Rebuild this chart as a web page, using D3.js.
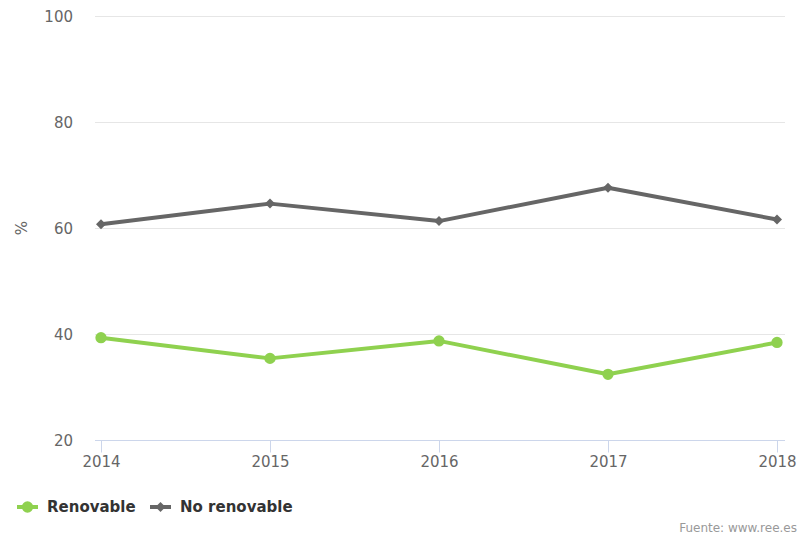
<!DOCTYPE html>
<html>
<head>
<meta charset="utf-8">
<script src="https://cdn.jsdelivr.net/npm/d3@7"></script>
<style>
  html, body { margin: 0; padding: 0; background: #fff; }
  svg { display: block; font-family: "DejaVu Sans", "Lucida Grande", sans-serif; }
</style>
</head>
<body>
<svg id="chart" width="800" height="535"></svg>
<script>
// Share of renewable vs non-renewable generation (%)
const years = [2014, 2015, 2016, 2017, 2018];
const renovable = [39.3, 35.4, 38.7, 32.4, 38.4];
const noRenovable = [60.7, 64.6, 61.3, 67.6, 61.6];
const yTicks = [20, 40, 60, 80, 100];
const seriesNames = ["Renovable", "No renovable"];
const source = "Fuente: www.ree.es";

const svg = d3.select("#chart");
const plot = { left: 95, right: 785, top: 16, bottom: 440 };

const x = d3.scalePoint().domain(years).range([101, 777]);
const y = d3.scaleLinear().domain([20, 100]).range([plot.bottom, plot.top]);

// square diamond marker
const diamond = {
  draw(ctx, size) {
    const r = Math.sqrt(size / 2);
    ctx.moveTo(0, -r); ctx.lineTo(r, 0); ctx.lineTo(0, r); ctx.lineTo(-r, 0); ctx.closePath();
  }
};

// horizontal grid
svg.append("g").selectAll("line").data(yTicks.slice(1)).join("line")
  .attr("x1", plot.left).attr("x2", plot.right)
  .attr("y1", d => Math.round(y(d)) + 0.5).attr("y2", d => Math.round(y(d)) + 0.5)
  .attr("stroke", "#e6e6e6").attr("stroke-width", 1);

// y axis labels
const yAxis = d3.axisLeft(y).tickValues(yTicks).tickSize(0).tickPadding(0);
const gy = svg.append("g").attr("transform", "translate(73,0)").call(yAxis);
gy.select(".domain").remove();
gy.selectAll("text").attr("font-size", 15).attr("fill", "#666")
  .attr("font-family", "DejaVu Sans, sans-serif").attr("dy", "0.35em");

// y axis title
svg.append("text").attr("transform", "translate(27,228) rotate(-90)")
  .attr("text-anchor", "middle").attr("font-size", 15).attr("fill", "#666").text("%");

// x axis
const xAxis = d3.axisBottom(x).tickSize(12).tickPadding(4);
const gx = svg.append("g").attr("transform", `translate(0,${plot.bottom + 0.5})`).call(xAxis);
gx.select(".domain").attr("d", `M${plot.left},0H${plot.right}`).attr("stroke", "#ccd6eb");
gx.selectAll(".tick line").attr("stroke", "#ccd6eb");
gx.selectAll(".tick text").attr("font-size", 15).attr("fill", "#666")
  .attr("font-family", "DejaVu Sans, sans-serif");

const colors = ["#8fd14f", "#666666"];
const line = d3.line().x((d, i) => x(years[i])).y(d => y(d));

function drawSeries(values, color, symbolType, size) {
  const g = svg.append("g");
  g.append("path").datum(values).attr("d", line)
    .attr("fill", "none").attr("stroke", color).attr("stroke-width", 4)
    .attr("stroke-linejoin", "round").attr("stroke-linecap", "round");
  g.selectAll("path.m").data(values).join("path").attr("class", "m")
    .attr("transform", (d, i) => `translate(${x(years[i])},${y(d)})`)
    .attr("d", d3.symbol().type(symbolType).size(size))
    .attr("fill", color);
}
drawSeries(noRenovable, colors[1], diamond, 50);
drawSeries(renovable, colors[0], d3.symbolCircle, 100);

// legend
const legendItems = [
  { name: seriesNames[0], color: colors[0], sym: d3.symbolCircle, size: 100, x: 17 },
  { name: seriesNames[1], color: colors[1], sym: diamond, size: 50, x: 150 }
];
const lg = svg.append("g");
legendItems.forEach(it => {
  lg.append("line").attr("x1", it.x).attr("x2", it.x + 21).attr("y1", 507).attr("y2", 507)
    .attr("stroke", it.color).attr("stroke-width", 4);
  lg.append("path").attr("transform", `translate(${it.x + 10.5},507)`)
    .attr("d", d3.symbol().type(it.sym).size(it.size))
    .attr("fill", it.color);
  lg.append("text").attr("x", it.x + 30).attr("y", 512)
    .attr("font-size", 15).attr("font-weight", "bold").attr("fill", "#333").text(it.name);
});

// credits
svg.append("text").attr("x", 797).attr("y", 532).attr("text-anchor", "end")
  .attr("font-size", 12).attr("fill", "#999").text(source);
</script>
</body>
</html>
